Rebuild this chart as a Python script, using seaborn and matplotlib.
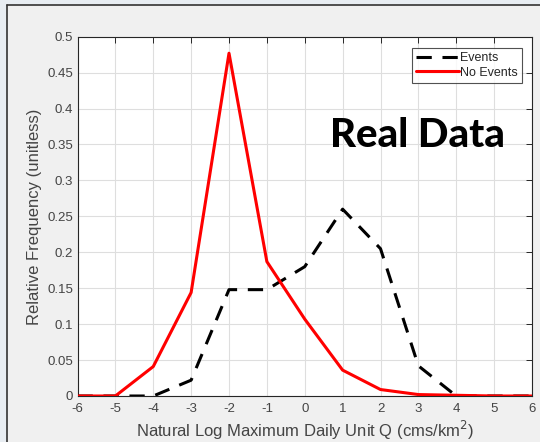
import matplotlib
matplotlib.use("Agg")
import matplotlib.pyplot as plt
import seaborn as sns
import pandas as pd
from matplotlib.patches import Rectangle

x_vals = [-6, -5, -4, -3, -2, -1, 0, 1, 2, 3, 4, 5, 6]
events = [0, 0, 0, 0.022, 0.148, 0.148, 0.18, 0.26, 0.205, 0.042, 0, 0, 0]
no_events = [0, 0, 0.041, 0.144, 0.477, 0.187, 0.107, 0.036, 0.009, 0.002, 0.001, 0, 0]
x_ticks = [-6, -5, -4, -3, -2, -1, 0, 1, 2, 3, 4, 5, 6]
y_ticks = [0, 0.05, 0.1, 0.15, 0.2, 0.25, 0.3, 0.35, 0.4, 0.45, 0.5]
y_tick_labels = ["0", "0.05", "0.1", "0.15", "0.2", "0.25", "0.3", "0.35", "0.4", "0.45", "0.5"]

sns.set_style("white")
plt.rcParams['font.family'] = ['Liberation Sans', 'DejaVu Sans']

fig = plt.figure(figsize=(5.4, 4.42), dpi=100)
fig.patch.set_facecolor('#f0f0f0')
# outer frame
fig.patches.append(Rectangle((0, 0), 7/540, 1, transform=fig.transFigure,
                             facecolor='#e8edf2', edgecolor='none', zorder=0))
fig.patches.append(Rectangle((0, 1-4/442), 1, 4/442, transform=fig.transFigure,
                             facecolor='#e8edf2', edgecolor='none', zorder=0))
fig.lines.append(plt.Line2D([7/540, 7/540], [0, 1-4.5/442], transform=fig.transFigure,
                            color='#333333', lw=1.2))
fig.lines.append(plt.Line2D([7/540, 1], [1-4.5/442, 1-4.5/442], transform=fig.transFigure,
                            color='#333333', lw=1.2))

ax = fig.add_axes([77.5/540, 1-396/442, (532-77.5)/540, (396-36.7)/442])
ax.set_facecolor('white')

df = pd.DataFrame({"x": x_vals * 2,
                   "y": events + no_events,
                   "series": ["Events"] * len(x_vals) + ["No Events"] * len(x_vals)})

sns.lineplot(data=df[df.series == "Events"], x="x", y="y", ax=ax, color='black',
             lw=2.2, label="Events", zorder=3)
ax.lines[-1].set_dashes([5, 3.5])
sns.lineplot(data=df[df.series == "No Events"], x="x", y="y", ax=ax, color='#ff0000',
             lw=2.2, label="No Events", zorder=4)

ax.set_xlim(-6, 6)
ax.set_ylim(0, 0.5)
ax.set_xticks(x_ticks)
ax.set_xticklabels([str(v) for v in x_ticks])
ax.set_yticks(y_ticks)
ax.set_yticklabels(y_tick_labels)
ax.grid(True, color='#dedede', lw=0.8)
ax.tick_params(direction='in', length=4, width=0.7, top=True, right=True,
               labelsize=9.5, colors='#262626', labelcolor='#444444')
ax.tick_params(axis='x', pad=5)
ax.tick_params(axis='y', pad=3)
for s in ax.spines.values():
    s.set_visible(True)
    s.set_color('#262626')
    s.set_linewidth(0.8)

ax.set_xlabel("Natural Log Maximum Daily Unit Q (cms/km$^2$)", fontsize=12,
              color='#444444', labelpad=3)
ax.set_ylabel("Relative Frequency (unitless)", fontsize=12, color='#444444', labelpad=4)

leg = ax.legend(loc='upper right', bbox_to_anchor=(0.978, 0.969), fontsize=9,
                frameon=True, fancybox=False, handlelength=3.4, handletextpad=0.1,
                borderpad=0.35, labelspacing=0.2, borderaxespad=0)
leg.get_frame().set_edgecolor('#262626')
leg.get_frame().set_linewidth(0.8)

ax.text(0.556, 0.693, "Real Data", transform=ax.transAxes, fontsize=29,
        fontweight='black', family=['Lato', 'DejaVu Sans'], color='black',
        ha='left', va='baseline')

fig.savefig("out.png", dpi=100, facecolor=fig.get_facecolor())
